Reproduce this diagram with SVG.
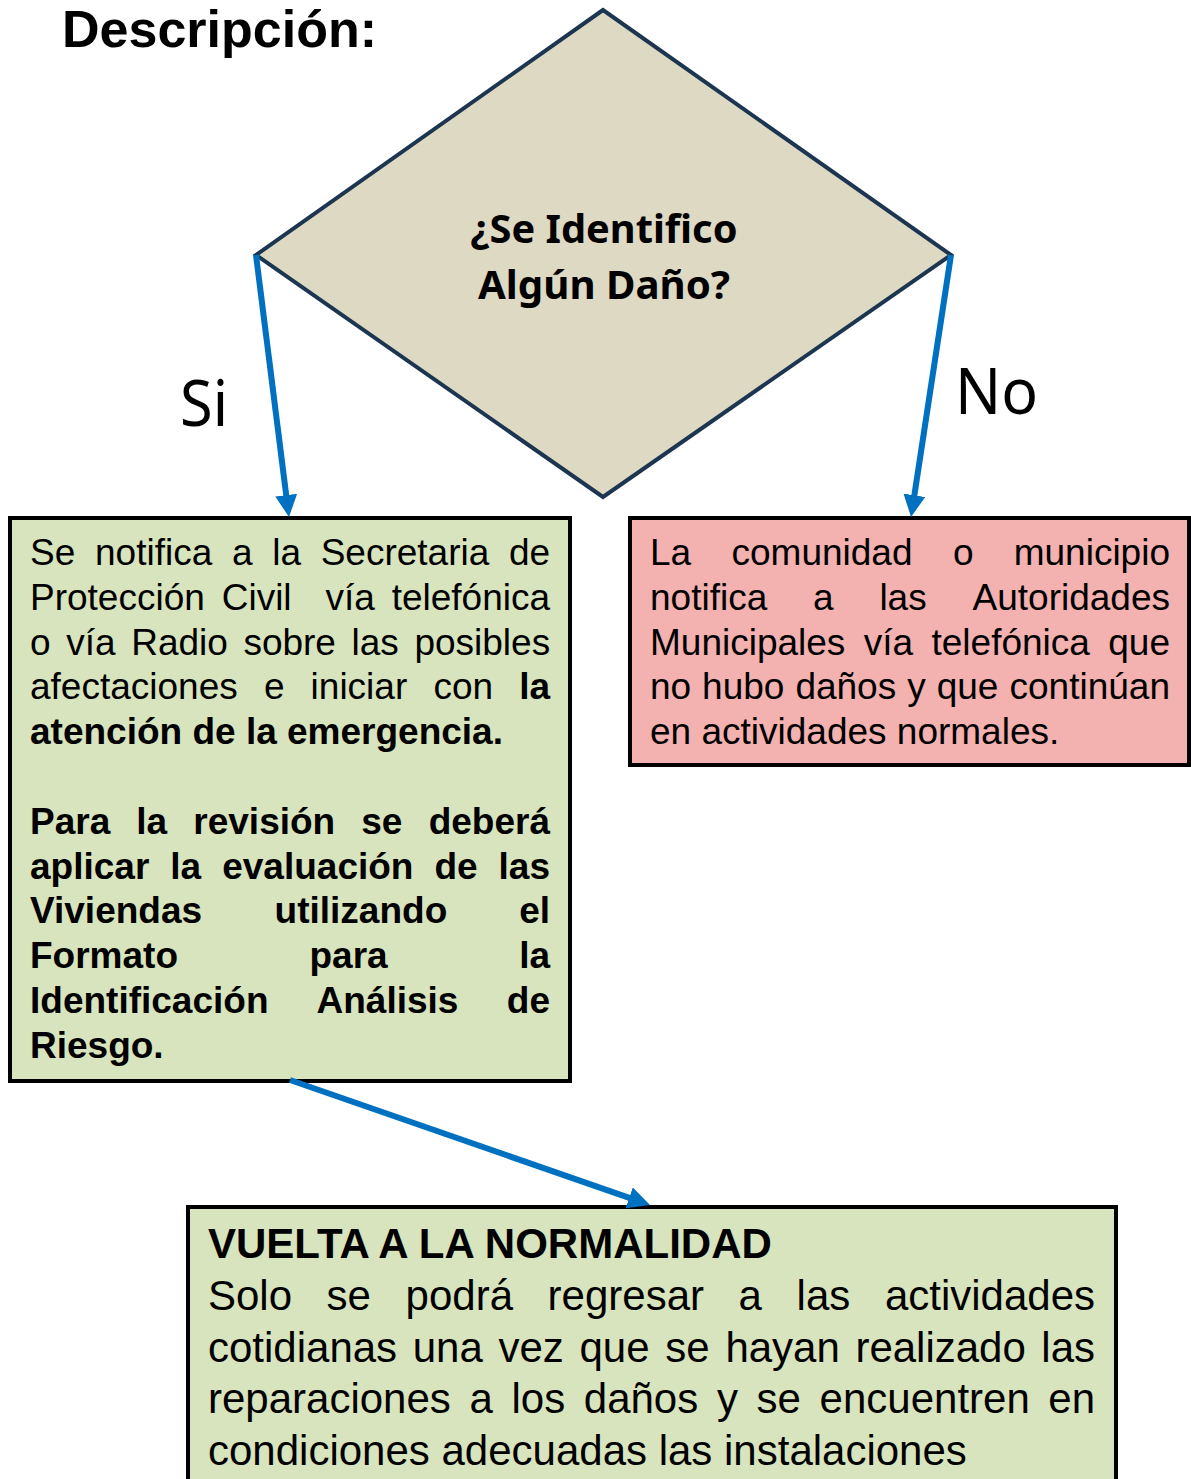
<svg xmlns="http://www.w3.org/2000/svg" width="1191" height="1479" viewBox="0 0 1191 1479">
<style>
.t{font-family:"Liberation Sans",Arial,sans-serif;font-size:37px;fill:#000}
.b{font-weight:bold}
.bt{font-family:"Liberation Sans",Arial,sans-serif;font-size:42px;fill:#000}
.cal{font-family:"Noto Sans","Open Sans",sans-serif;fill:#000}
.box{stroke:#000;stroke-width:4}
.conn{stroke:#0070C0;stroke-width:6;fill:none;marker-end:url(#ah)}
</style>
<defs>
<marker id="ah" markerUnits="userSpaceOnUse" markerWidth="24" markerHeight="24" refX="7" refY="11" orient="auto">
<path d="M0,0 L22,11 L0,22 z" fill="#0070C0"/>
</marker>
</defs>
<rect width="1191" height="1479" fill="#fff"/>
<text id="title" class="t b" x="62" y="47" style="font-size:52px">Descripción:</text>

<g id="decision">
<polygon points="603,10 256,255 603,497 951,255" fill="#DDD9C3" stroke="#1C3550" stroke-width="4" stroke-linejoin="miter"/>
<text class="cal" font-weight="bold" font-size="40" text-anchor="middle" x="604" y="243" textLength="267" lengthAdjust="spacingAndGlyphs">¿Se Identifico</text>
<text class="cal" font-weight="bold" font-size="40" text-anchor="middle" x="604" y="299" textLength="252" lengthAdjust="spacingAndGlyphs">Algún Daño?</text>
</g>

<g id="label-si"><text class="cal" font-size="64" x="180" y="426" textLength="48" lengthAdjust="spacingAndGlyphs">Si</text></g>
<g id="label-no"><text class="cal" font-size="64" x="955" y="414" textLength="83" lengthAdjust="spacingAndGlyphs">No</text></g>

<g id="node-si">
<rect class="box" x="10" y="518" width="560" height="563" fill="#D7E4BD"/>
<text class="t" y="565"><tspan x="30">Se</tspan><tspan x="95">notifica</tspan><tspan x="232">a</tspan><tspan x="272.2">la</tspan><tspan x="320.7">Secretaria</tspan><tspan x="509">de</tspan></text>
<text class="t" y="609.8"><tspan x="30">Protección</tspan><tspan x="221.7">Civil</tspan><tspan x="325.4">vía</tspan><tspan x="391.7">telefónica</tspan></text>
<text class="t" y="654.6"><tspan x="30">o</tspan><tspan x="66.2">vía</tspan><tspan x="131.2">Radio</tspan><tspan x="243.4">sobre</tspan><tspan x="351.5">las</tspan><tspan x="414.4">posibles</tspan></text>
<text class="t" y="699.4"><tspan x="30">afectaciones</tspan><tspan x="263.9">e</tspan><tspan x="310.6">iniciar</tspan><tspan x="433.4">con</tspan></text>
<text class="t b" y="699.4" x="550" text-anchor="end">la</text>
<text class="t b" x="30" y="744.2">atención de la emergencia.</text>
<text class="t b" y="833.8"><tspan x="30">Para</tspan><tspan x="136.3">la</tspan><tspan x="193.3">revisión</tspan><tspan x="361.3">se</tspan></text>
<text class="t b" x="550" y="833.8" text-anchor="end">deberá</text>
<text class="t b" y="878.6"><tspan x="30">aplicar</tspan><tspan x="170.3">la</tspan><tspan x="222.2">evaluación</tspan><tspan x="434.5">de</tspan></text>
<text class="t b" x="550" y="878.6" text-anchor="end">las</text>
<text class="t b" y="923.4"><tspan x="30">Viviendas</tspan><tspan x="274.6">utilizando</tspan></text>
<text class="t b" x="550" y="923.4" text-anchor="end">el</text>
<text class="t b" y="968.2"><tspan x="30">Formato</tspan><tspan x="309.5">para</tspan></text>
<text class="t b" x="550" y="968.2" text-anchor="end">la</text>
<text class="t b" y="1013"><tspan x="30">Identificación</tspan><tspan x="316.5">Análisis</tspan></text>
<text class="t b" x="550" y="1013" text-anchor="end">de</text>
<text class="t b" x="30" y="1057.8">Riesgo.</text>
</g>

<g id="node-no">
<rect class="box" x="630" y="518" width="559" height="247" fill="#F3B1AF"/>
<text class="t" y="565"><tspan x="650">La</tspan><tspan x="731.5">comunidad</tspan><tspan x="952.9">o</tspan></text>
<text class="t" x="1170" y="565" text-anchor="end">municipio</text>
<text class="t" y="609.8"><tspan x="650">notifica</tspan><tspan x="813">a</tspan><tspan x="879.4">las</tspan></text>
<text class="t" x="1170" y="609.8" text-anchor="end">Autoridades</text>
<text class="t" y="654.6"><tspan x="650">Municipales</tspan><tspan x="863.7">vía</tspan><tspan x="931.5">telefónica</tspan></text>
<text class="t" x="1170" y="654.6" text-anchor="end">que</text>
<text class="t" y="699.4"><tspan x="650">no</tspan><tspan x="702.1">hubo</tspan><tspan x="795.4">daños</tspan><tspan x="907.2">y</tspan><tspan x="936.7">que</tspan></text>
<text class="t" x="1170" y="699.4" text-anchor="end">continúan</text>
<text class="t" x="650" y="744.2">en actividades normales.</text>
</g>

<g id="node-normalidad">
<rect class="box" x="188" y="1207" width="928" height="300" fill="#D7E4BD"/>
<text class="bt b" x="208" y="1258">VUELTA A LA NORMALIDAD</text>
<text class="bt" y="1310"><tspan x="208">Solo</tspan><tspan x="326.6">se</tspan><tspan x="405.6">podrá</tspan><tspan x="547.6">regresar</tspan><tspan x="738.6">a</tspan><tspan x="796.6">las</tspan><tspan x="884.9">actividades</tspan></text>
<text class="bt" y="1361.5"><tspan x="208">cotidianas</tspan><tspan x="412.7">una</tspan><tspan x="498.5">vez</tspan><tspan x="579.5">que</tspan><tspan x="665.3">se</tspan><tspan x="725.4">hayan</tspan><tspan x="855.4">realizado</tspan></text>
<text class="bt" x="1095" y="1361.5" text-anchor="end">las</text>
<text class="bt" y="1413"><tspan x="208">reparaciones</tspan><tspan x="469.4">a</tspan><tspan x="511.5">los</tspan><tspan x="583.8">daños</tspan><tspan x="716.9">y</tspan><tspan x="756.5">se</tspan><tspan x="819.6">encuentren</tspan></text>
<text class="bt" x="1095" y="1413" text-anchor="end">en</text>
<text class="bt" x="208" y="1464.5">condiciones adecuadas las instalaciones</text>
</g>

<g id="connectors">
<line class="conn" x1="256" y1="255" x2="287.1" y2="502.1"/>
<line class="conn" x1="951" y1="255" x2="913.3" y2="502.2"/>
<line class="conn" x1="290" y1="1080" x2="635.8" y2="1200.1"/>
</g>
</svg>
